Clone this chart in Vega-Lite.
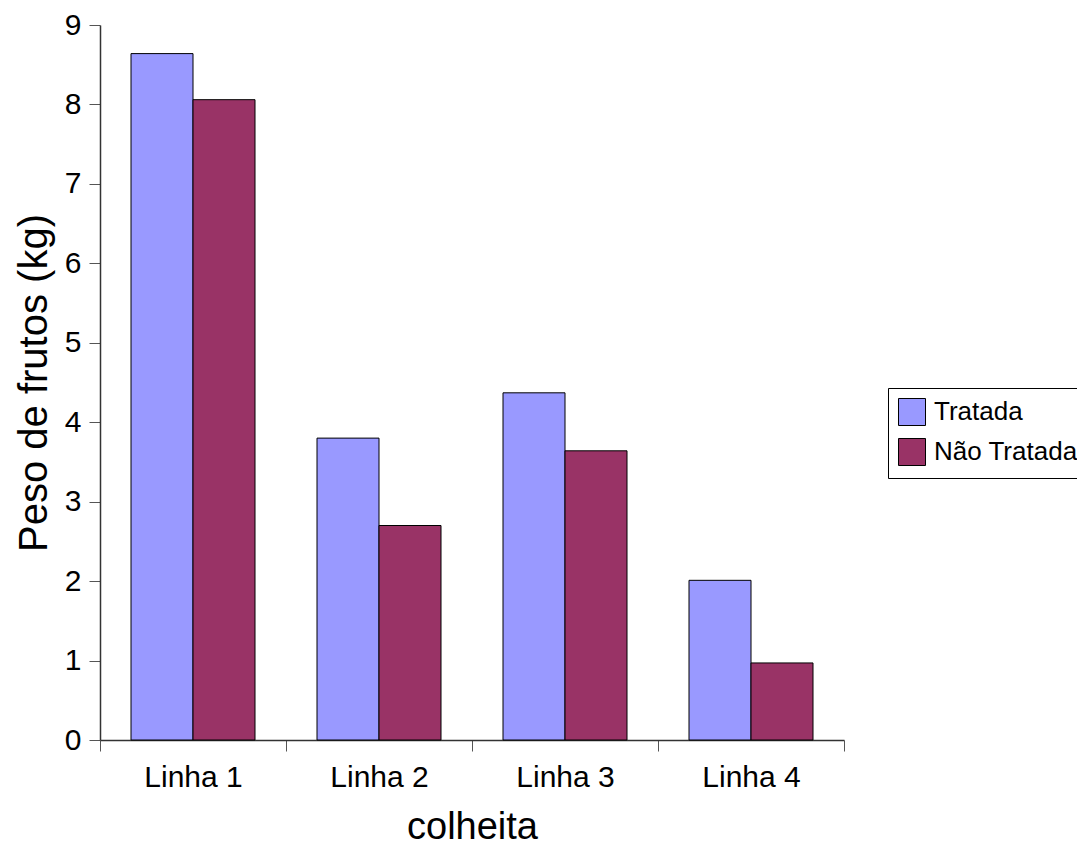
{
  "$schema": "https://vega.github.io/schema/vega-lite/v6.json",
  "autosize": "none",
  "width": 744,
  "height": 715,
  "padding": {"left": 100, "top": 25, "right": 233, "bottom": 105},
  "background": "white",
  "config": {
    "font": "Liberation Sans",
    "view": {"stroke": null}
  },
  "data": {
    "values": [
      {"linha": "Linha 1", "grupo": "Tratada", "peso": 8.64},
      {"linha": "Linha 1", "grupo": "Não Tratada", "peso": 8.06},
      {"linha": "Linha 2", "grupo": "Tratada", "peso": 3.80},
      {"linha": "Linha 2", "grupo": "Não Tratada", "peso": 2.70},
      {"linha": "Linha 3", "grupo": "Tratada", "peso": 4.37},
      {"linha": "Linha 3", "grupo": "Não Tratada", "peso": 3.64},
      {"linha": "Linha 4", "grupo": "Tratada", "peso": 2.01},
      {"linha": "Linha 4", "grupo": "Não Tratada", "peso": 0.97}
    ]
  },
  "mark": {"type": "bar", "stroke": "black", "strokeWidth": 1},
  "encoding": {
    "x": {
      "field": "linha",
      "type": "nominal",
      "scale": {"paddingInner": 0, "paddingOuter": 0},
      "axis": {
        "title": "colheita",
        "titleFontSize": 38,
        "titleFontWeight": "normal",
        "titleColor": "black",
        "titlePadding": 16,
        "labelAngle": 0,
        "labelFontSize": 30,
        "labelColor": "black",
        "labelPadding": 11,
        "tickBand": "extent",
        "tickSize": 11,
        "tickColor": "#555",
        "domainColor": "#333",
        "domainWidth": 1.5
      }
    },
    "xOffset": {
      "field": "grupo",
      "type": "nominal",
      "sort": ["Tratada", "Não Tratada"],
      "scale": {"paddingOuter": 0.5, "paddingInner": 0}
    },
    "y": {
      "field": "peso",
      "type": "quantitative",
      "scale": {"domain": [0, 9], "nice": false},
      "axis": {
        "title": "Peso de frutos (kg)",
        "titleFontSize": 40,
        "titleFontWeight": "normal",
        "titleColor": "black",
        "titlePadding": 10,
        "values": [0, 1, 2, 3, 4, 5, 6, 7, 8, 9],
        "grid": false,
        "labelFontSize": 30,
        "labelColor": "black",
        "labelPadding": 8,
        "tickSize": 11,
        "tickColor": "#555",
        "domainColor": "#333",
        "domainWidth": 1.5
      }
    },
    "color": {
      "field": "grupo",
      "type": "nominal",
      "scale": {"domain": ["Tratada", "Não Tratada"], "range": ["#9999FF", "#993366"]},
      "legend": {
        "title": null,
        "orient": "none",
        "legendX": 788,
        "legendY": 363,
        "strokeColor": "black",
        "fillColor": "white",
        "padding": 10,
        "symbolType": "square",
        "symbolSize": 729,
        "symbolStrokeColor": "black",
        "symbolStrokeWidth": 1,
        "symbolOpacity": 1,
        "labelFontSize": 26,
        "labelColor": "black",
        "labelOffset": 8,
        "rowPadding": 8
      }
    }
  }
}
